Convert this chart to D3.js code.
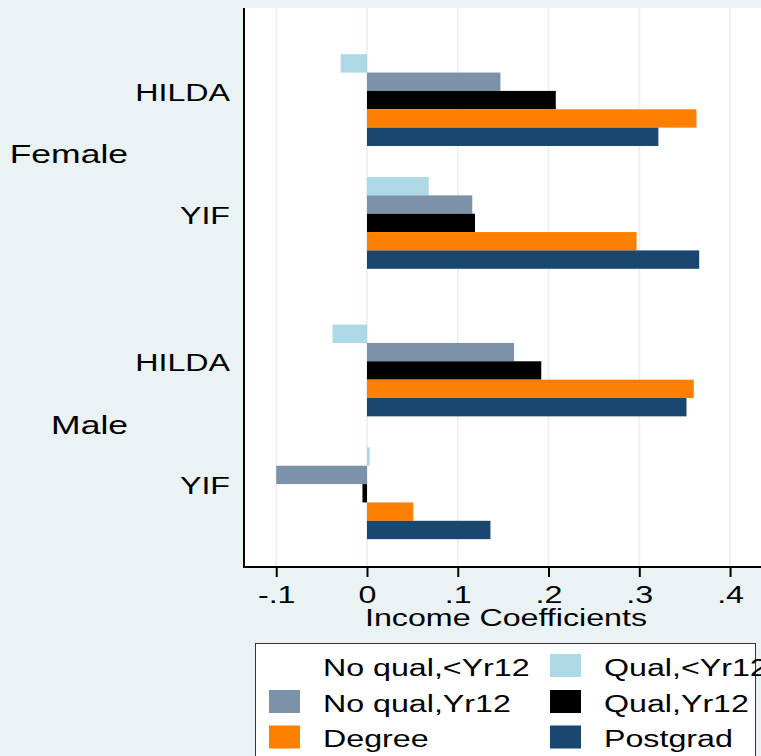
<!DOCTYPE html>
<html>
<head>
<meta charset="utf-8">
<script src="https://cdn.jsdelivr.net/npm/d3@7"></script>
<style>
  body { margin: 0; background: #eaf2f3; }
  svg { display: block; font-family: "Liberation Sans", Arial, sans-serif; }
</style>
</head>
<body>
<svg id="chart"></svg>
<script>
// Data
const genders = ["Female", "Male"];
const sources = ["HILDA", "YIF"];
const series = ["No qual,<Yr12", "Qual,<Yr12", "No qual,Yr12", "Qual,Yr12", "Degree", "Postgrad"];
const colors = ["#ffffff", "#add8e6", "#7b92a8", "#000000", "#ff7f00", "#1a476f"];

const femaleHilda = [0, -0.029, 0.147, 0.208, 0.363, 0.321];
const femaleYif   = [0, 0.068, 0.116, 0.119, 0.297, 0.366];
const maleHilda   = [0, -0.038, 0.162, 0.192, 0.360, 0.352];
const maleYif     = [0, 0.003, -0.100, -0.005, 0.051, 0.136];

const xTicks = [-0.1, 0, 0.1, 0.2, 0.3, 0.4];
const xTickLabels = ["-.1", "0", ".1", ".2", ".3", ".4"];

const rows = [
  {gender: "Female", source: "HILDA", values: femaleHilda},
  {gender: "Female", source: "YIF", values: femaleYif},
  {gender: "Male", source: "HILDA", values: maleHilda},
  {gender: "Male", source: "YIF", values: maleYif}
];

const W = 761, H = 756;
const plot = {left: 244, right: 770, top: 8, bottom: 567};
const stretch = 1.37;   // text in the original is drawn wide
const fontSize = 23.5;

const svg = d3.select("#chart").attr("width", W).attr("height", H);

// Scales
const x = d3.scaleLinear().domain([-0.1355, 0.444]).range([plot.left, plot.right]);

const yGender = d3.scaleBand()
    .domain(genders)
    .range([plot.top, plot.bottom])
    .paddingInner(0.1385)
    .paddingOuter(0.103);

const ySource = d3.scaleBand()
    .domain(sources)
    .range([0, yGender.bandwidth()])
    .paddingInner(0.103)
    .paddingOuter(0);

const ySeries = d3.scaleBand()
    .domain(series)
    .range([0, ySource.bandwidth()])
    .padding(0);

// Plot area
svg.append("rect")
    .attr("x", plot.left).attr("y", plot.top)
    .attr("width", plot.right - plot.left).attr("height", plot.bottom - plot.top)
    .attr("fill", "#ffffff");

// Gridlines
svg.append("g").selectAll("line")
    .data(xTicks)
    .join("line")
    .attr("x1", d => x(d)).attr("x2", d => x(d))
    .attr("y1", plot.top).attr("y2", plot.bottom)
    .attr("stroke", "#eaf2f3")
    .attr("stroke-width", 2);

// Bars
const rowG = svg.append("g").selectAll("g")
    .data(rows)
    .join("g")
    .attr("transform", d => `translate(0,${yGender(d.gender) + ySource(d.source)})`);

rowG.selectAll("rect")
    .data(d => d.values.map((v, i) => ({series: series[i], value: v, color: colors[i]})))
    .join("rect")
    .attr("x", d => x(Math.min(0, d.value)))
    .attr("width", d => Math.abs(x(d.value) - x(0)))
    .attr("y", d => ySeries(d.series))
    .attr("height", ySeries.bandwidth())
    .attr("fill", d => d.color);

// Axes lines
svg.append("line")
    .attr("x1", plot.left).attr("x2", plot.left)
    .attr("y1", plot.top).attr("y2", plot.bottom + 1)
    .attr("stroke", "#000").attr("stroke-width", 2);

const xAxis = d3.axisBottom(x)
    .tickValues(xTicks)
    .tickFormat((d, i) => xTickLabels[i])
    .tickSize(10)
    .tickPadding(3);

const gx = svg.append("g")
    .attr("transform", `translate(0,${plot.bottom})`)
    .call(xAxis);
gx.select(".domain").attr("d", `M${plot.left},0H${W + 10}`).attr("stroke", "#000").attr("stroke-width", 2);
gx.selectAll(".tick line").attr("stroke", "#000").attr("stroke-width", 2);
gx.selectAll(".tick text")
    .attr("y", 0).attr("dy", null)
    .attr("font-size", fontSize)
    .attr("font-family", "Liberation Sans, Arial, sans-serif")
    .attr("fill", "#000")
    .attr("transform", `translate(0,36) scale(${stretch},1)`);

// Axis title
svg.append("text")
    .attr("transform", `translate(${(plot.left + plot.right) / 2 - 1},626) scale(${stretch},1)`)
    .attr("text-anchor", "middle")
    .attr("font-size", fontSize)
    .text("Income Coefficients");

// Source labels
svg.append("g").selectAll("text")
    .data(rows)
    .join("text")
    .attr("transform", d => `translate(230,${yGender(d.gender) + ySource(d.source) + ySource.bandwidth() / 2 + 10}) scale(${stretch},1)`)
    .attr("text-anchor", "end")
    .attr("font-size", fontSize)
    .text(d => d.source);

// Gender labels
svg.append("g").selectAll("text")
    .data(genders)
    .join("text")
    .attr("transform", d => `translate(128,${yGender(d) + yGender.bandwidth() / 2 + 11}) scale(1.42,1)`)
    .attr("text-anchor", "end")
    .attr("font-size", 25)
    .text(d => d);

// Legend
const legend = svg.append("g");
legend.append("rect")
    .attr("x", 255.5).attr("y", 643.5)
    .attr("width", 500).attr("height", 130)
    .attr("fill", "#ffffff")
    .attr("stroke", "#333")
    .attr("stroke-width", 1);

const legendCols = [269, 550];
const legendRows = [665.5, 701.5, 737];

const items = legend.selectAll("g.item")
    .data(series)
    .join("g")
    .attr("class", "item")
    .attr("transform", (d, i) => `translate(${legendCols[i % 2]},${legendRows[Math.floor(i / 2)]})`);

items.append("rect")
    .attr("x", 0).attr("y", -11.5)
    .attr("width", 31).attr("height", 23)
    .attr("fill", (d, i) => colors[i]);

items.append("text")
    .attr("transform", `translate(54,10) scale(${stretch},1)`)
    .attr("font-size", fontSize)
    .text(d => d);
</script>
</body>
</html>
